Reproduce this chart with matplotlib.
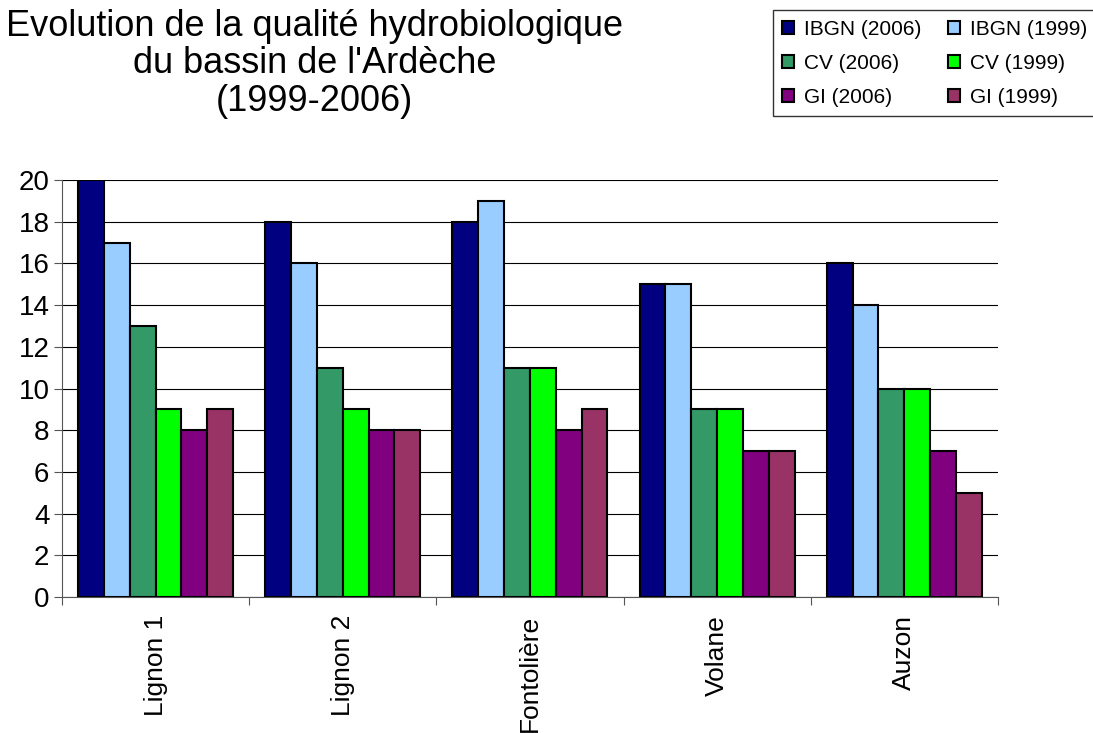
import numpy as np
import matplotlib
matplotlib.use('Agg')
from matplotlib import pyplot as plt

# Values
stations = ['Lignon 1', 'Lignon 2', 'Fontolière', 'Volane', 'Auzon']
ibgn_2006 = [20, 18, 18, 15, 16]
ibgn_1999 = [17, 16, 19, 15, 14]
cv_2006 = [13, 11, 11, 9, 10]
cv_1999 = [9, 9, 11, 9, 10]
gi_2006 = [8, 8, 8, 7, 7]
gi_1999 = [9, 8, 9, 7, 5]

series = [
    ('IBGN (2006)', ibgn_2006, '#000080'),
    ('IBGN (1999)', ibgn_1999, '#99CCFF'),
    ('CV (2006)', cv_2006, '#339966'),
    ('CV (1999)', cv_1999, '#00FF00'),
    ('GI (2006)', gi_2006, '#800080'),
    ('GI (1999)', gi_1999, '#993366'),
]

plt.rcParams['font.family'] = ['Liberation Sans', 'DejaVu Sans']

fig = plt.figure(figsize=(10.93, 7.33), dpi=100)
ax = fig.add_axes([0.0567, 0.1855, 0.8563, 0.5689])

x = np.arange(len(stations))
width = 0.138
bars = {}
for i, (name, vals, color) in enumerate(series):
    offset = (i - 2.5) * width
    bars[name] = ax.bar(x + offset, vals, width, color=color, edgecolor='black',
                        linewidth=1.5, label=name, zorder=3)

ax.set_xlim(-0.5, len(stations) - 0.5)
ax.set_ylim(0, 20)
ax.set_yticks(range(0, 21, 2))
ax.yaxis.grid(True, color='black', linewidth=0.8, zorder=0)
ax.tick_params(axis='y', labelsize=20, length=6, direction='out', pad=3, color='#555555')

ax.set_xticks(np.arange(-0.5, len(stations), 1))
ax.set_xticklabels([])
ax.set_xticks(x, minor=True)
ax.set_xticklabels(stations, minor=True, rotation=90, fontsize=19, va='top')
ax.tick_params(axis='x', which='major', length=6, color='#555555')
ax.tick_params(axis='x', which='minor', length=0, pad=13)

ax.spines['top'].set_visible(False)
ax.spines['right'].set_visible(False)
ax.spines['left'].set_color('#555555')
ax.spines['bottom'].set_color('#555555')

fig.text(0.288, 0.988, "Evolution de la qualité hydrobiologique\ndu bassin de l'Ardèche\n(1999-2006)",
         ha='center', va='top', fontsize=26, linespacing=1.1)

order = ['IBGN (2006)', 'CV (2006)', 'GI (2006)', 'IBGN (1999)', 'CV (1999)', 'GI (1999)']
leg = fig.legend([bars[n] for n in order], order, ncol=2, loc='upper left',
                 bbox_to_anchor=(0.707, 0.986), borderaxespad=0, fontsize=15,
                 frameon=True, fancybox=False, edgecolor='black',
                 handlelength=0.55, handleheight=0.55, handletextpad=0.5,
                 columnspacing=1.3, labelspacing=0.72, borderpad=0.45)
leg.get_frame().set_linewidth(1.0)

fig.savefig('out.png', dpi=100)
